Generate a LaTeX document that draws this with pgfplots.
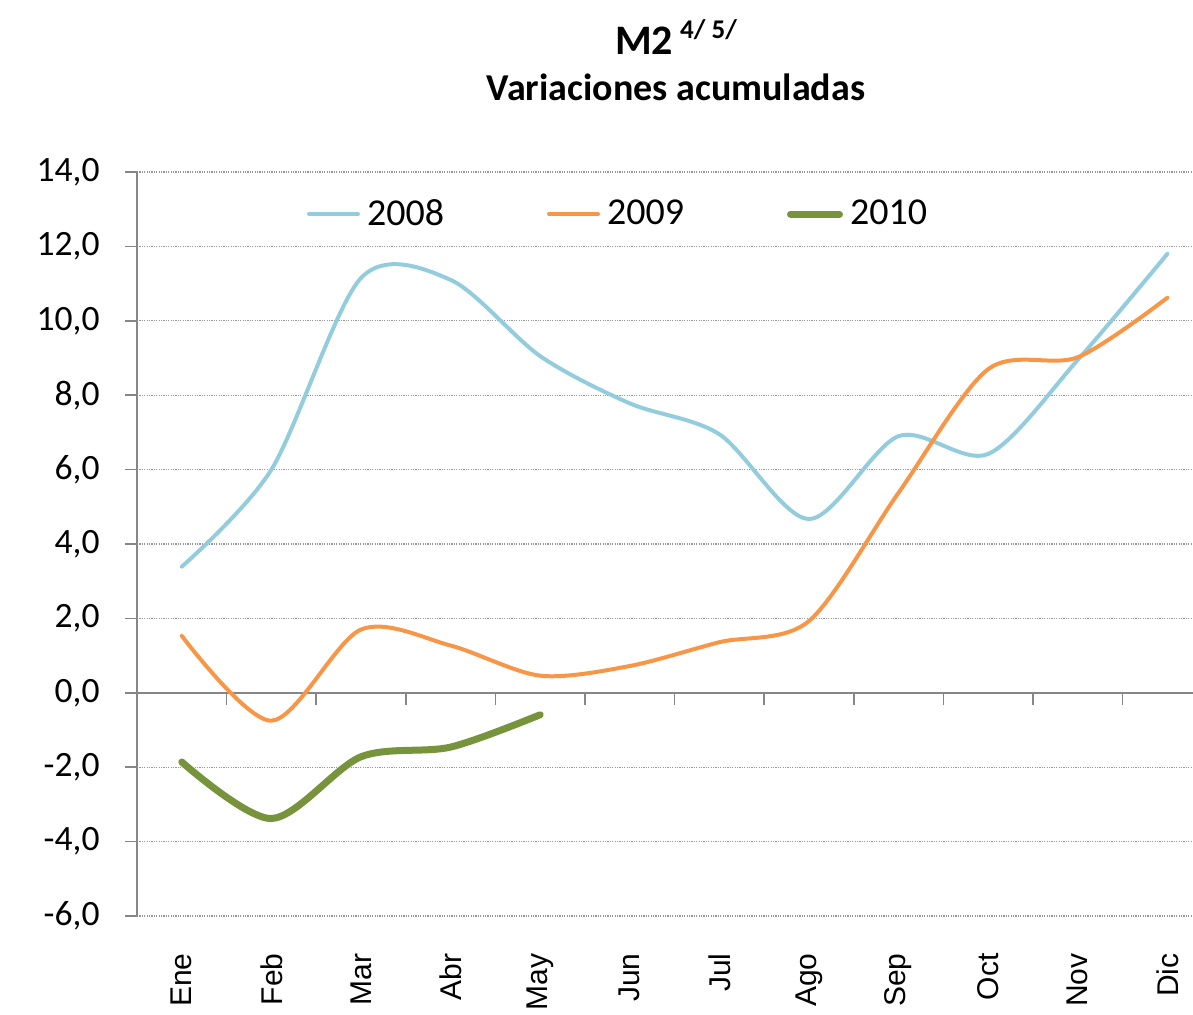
\documentclass[border=0pt]{standalone}
\usepackage{pgfplots}
\pgfplotsset{compat=1.18}
\usepackage{fontspec}
\setmainfont{Carlito}
\newfontfamily\lsans{Liberation Sans}
\definecolor{c08}{RGB}{147,205,221}
\definecolor{c09}{RGB}{247,150,70}
\definecolor{c10}{RGB}{119,147,60}
\definecolor{axgray}{RGB}{134,134,134}
\definecolor{gridgray}{RGB}{150,150,150}
\begin{document}
\begin{tikzpicture}
\path[use as bounding box] (0,0) rectangle (596.5pt,507.5pt);
\begin{axis}[
  at={(68.5pt,49.5pt)}, anchor=south west,
  scale only axis, width=528pt, height=372pt,
  xmin=-0.5, xmax=11.286, ymin=-6, ymax=14,
  axis x line*=bottom, axis y line*=left,
  x axis line style={draw=none},
  y axis line style={axgray, line width=0.75pt},
  xtick={0,1,2,3,4,5,6,7,8,9,10,11},
  xticklabels={Ene,Feb,Mar,Abr,May,Jun,Jul,Ago,Sep,Oct,Nov,Dic},
  xtick style={draw=none},
  xticklabel style={rotate=90, anchor=east, inner sep=0pt, font=\lsans\fontsize{15pt}{15pt}\selectfont},
  xticklabel shift=18.5pt,
  ytick={-6,-4,...,14},
  ytick style={axgray, line width=0.75pt},
  ytick align=outside, major tick length=6pt,
  yticklabel style={inner sep=0pt, font=\fontsize{17.8pt}{17.8pt}\selectfont, /pgf/number format/.cd, fixed, fixed zerofill, precision=1, use comma, assume math mode=true},
  yticklabel shift=12.5pt,
  ymajorgrids, major grid style={gridgray, line width=0.6pt, dash pattern=on 0.6pt off 0.6pt},
  legend style={at={(0.161,0.9435)}, anchor=west, draw=none, fill=none, inner sep=0pt, outer sep=0pt, column sep=0pt, nodes={inner sep=0pt, font=\fontsize{19pt}{19pt}\selectfont}, cells={anchor=west}},
  legend columns=3,
  legend image code/.code={\draw[#1, line cap=round] (1pt,0pt) -- (25.5pt,0pt);},
]
\draw[axgray, line width=0.75pt] (axis cs:-0.5,0) -- (axis cs:11.286,0);
\draw[axgray, line width=0.75pt]
  (axis cs:0.5,0) -- ++(0pt,-6pt) (axis cs:1.5,0) -- ++(0pt,-6pt)
  (axis cs:2.5,0) -- ++(0pt,-6pt) (axis cs:3.5,0) -- ++(0pt,-6pt)
  (axis cs:4.5,0) -- ++(0pt,-6pt) (axis cs:5.5,0) -- ++(0pt,-6pt)
  (axis cs:6.5,0) -- ++(0pt,-6pt) (axis cs:7.5,0) -- ++(0pt,-6pt)
  (axis cs:8.5,0) -- ++(0pt,-6pt) (axis cs:9.5,0) -- ++(0pt,-6pt)
  (axis cs:10.5,0) -- ++(0pt,-6pt);
\addplot[c08, line width=2pt, smooth, line cap=round] coordinates {(0,3.39)(1,6.0)(2,11.15)(3,11.1)(4,9.05)(5,7.78)(6,6.95)(7,4.67)(8,6.9)(9,6.42)(10,8.95)(11,11.8)};
\addlegendentry{\makebox[93.5pt][l]{\hspace{3.5pt}2008}}
\addplot[c09, line width=2pt, smooth, line cap=round] coordinates {(0,1.53)(1,-0.75)(2,1.7)(3,1.27)(4,0.46)(5,0.72)(6,1.36)(7,1.93)(8,5.38)(9,8.7)(10,9.02)(11,10.62)};
\addlegendentry{\makebox[93.5pt][l]{\hspace{3.5pt}2009}}
\addplot[c10, line width=3.5pt, smooth, line cap=round] coordinates {(0,-1.86)(1,-3.38)(2,-1.72)(3,-1.46)(4,-0.59)};
\addlegendentry{\hspace{3.5pt}2010}
\end{axis}
\node[anchor=base, font=\bfseries\fontsize{21pt}{21pt}\selectfont, inner sep=0pt] at (338pt,480pt) {M2\,\raisebox{8pt}{\fontsize{13.5pt}{13.5pt}\selectfont 4/ 5/}};
\node[anchor=base, font=\bfseries\fontsize{19pt}{19pt}\selectfont, inner sep=0pt] at (338pt,457pt) {Variaciones acumuladas};
\end{tikzpicture}
\end{document}
